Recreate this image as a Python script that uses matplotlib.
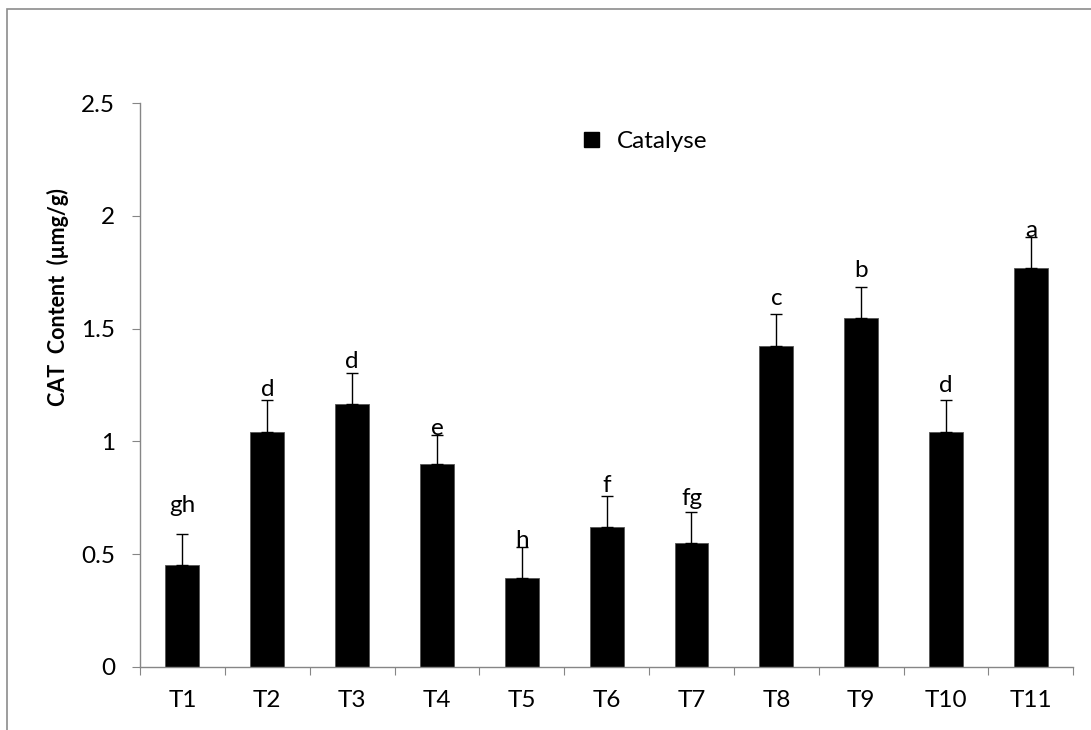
import matplotlib
matplotlib.use("Agg")
import matplotlib.pyplot as plt
from matplotlib.patches import Rectangle, Patch

plt.rcParams['font.family'] = ['Lato', 'DejaVu Sans']

# values
treatments = ['T1', 'T2', 'T3', 'T4', 'T5', 'T6', 'T7', 'T8', 'T9', 'T10', 'T11']
cat_content = [0.45, 1.043, 1.165, 0.898, 0.392, 0.618, 0.547, 1.423, 1.547, 1.043, 1.767]
cat_err = [0.14, 0.14, 0.14, 0.13, 0.14, 0.14, 0.14, 0.14, 0.14, 0.14, 0.14]
letters = ['gh', 'd', 'd', 'e', 'h', 'f', 'fg', 'c', 'b', 'd', 'a']
letter_y = [0.688, 1.202, 1.327, 1.028, 0.532, 0.776, 0.717, 1.605, 1.729, 1.220, 1.906]

axis_grey = '#868686'
fs = 17.5

fig = plt.figure(figsize=(10.91, 7.30), dpi=100)
ax = fig.add_axes([140 / 1091, 63.3 / 730, 933.3 / 1091, 563.4 / 730])

x = list(range(len(treatments)))
ax.bar(x, cat_content, width=0.4, color='black', edgecolor='#555555', linewidth=0.6,
       yerr=[[0] * len(cat_err), cat_err],
       error_kw=dict(ecolor='black', elinewidth=1.0, capsize=4.2, capthick=1.0))

for xi, lab, ly in zip(x, letters, letter_y):
    ax.text(xi, ly, lab, ha='center', va='baseline', fontsize=fs, color='black')

ax.set_xlim(-0.5, len(treatments) - 0.5)
ax.set_ylim(0, 2.5)
ax.set_yticks([0, 0.5, 1, 1.5, 2, 2.5])
ax.set_yticklabels(['0', '0.5', '1', '1.5', '2', '2.5'])
ax.set_xticks(x)
ax.set_xticklabels(treatments)
ax.set_xticks([i - 0.5 for i in range(len(treatments) + 1)], minor=True)

ax.tick_params(axis='x', which='major', length=0, pad=17, labelsize=fs)
ax.tick_params(axis='x', which='minor', length=5.8, width=0.8, color=axis_grey, direction='out')
ax.tick_params(axis='y', length=5.8, width=0.8, color=axis_grey, direction='out', pad=12, labelsize=fs)

for side in ['top', 'right']:
    ax.spines[side].set_visible(False)
for side in ['left', 'bottom']:
    ax.spines[side].set_color(axis_grey)
    ax.spines[side].set_linewidth(1)

fig.text(58 / 1091, 1 - 297 / 730, 'CAT  Content  (\u00b5mg/g)', rotation=90,
         ha='center', va='center', fontsize=15.5, fontweight='bold')

handle = Patch(facecolor='black', edgecolor='black')
fig.legend([handle], ['Catalyse'], loc='center left',
           bbox_to_anchor=(584 / 1091, 1 - 141.5 / 730), frameon=False,
           fontsize=fs, handlelength=0.6, handleheight=0.6, handletextpad=0.75,
           borderpad=0, borderaxespad=0)

# chart area border (cut off on right and bottom in the reference)
border = Rectangle((7.3 / 1091, -0.1), 1.2, 1.1 - 9.3 / 730, transform=fig.transFigure,
                   fill=False, edgecolor='#8c8c8c', linewidth=1.2, clip_on=False)
fig.add_artist(border)

fig.savefig('out.png', dpi=100)
